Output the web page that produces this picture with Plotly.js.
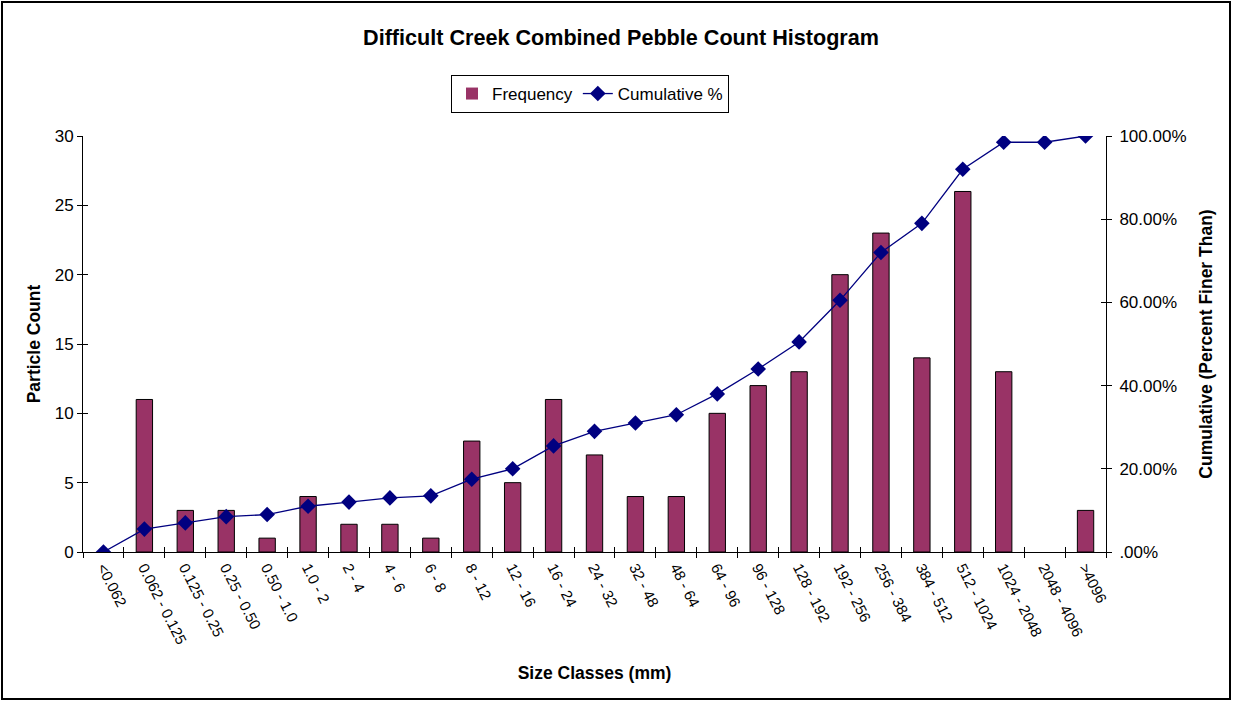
<!DOCTYPE html>
<html>
<head>
<meta charset="utf-8">
<script src="https://cdn.plot.ly/plotly-3.0.1.min.js"></script>
<style>
  html, body { margin:0; padding:0; background:#fff; }
  #wrap { position:relative; width:1233px; height:702px; }
  #chart { position:absolute; left:0; top:0; width:1233px; height:702px; }
  #frame { position:absolute; left:1px; top:1px; width:1230px; height:699px; border:2px solid #000; box-sizing:border-box; pointer-events:none; }
</style>
</head>
<body>
<div id="wrap"><div id="chart"></div><div id="frame"></div></div>
<script>
const categories = ["<0.062","0.062 - 0.125","0.125 - 0.25","0.25 - 0.50","0.50 - 1.0","1.0 - 2","2 - 4","4 - 6","6 - 8","8 - 12","12 - 16","16 - 24","24 - 32","32 - 48","48 - 64","64 - 96","96 - 128","128 - 192","192 - 256","256 - 384","384 - 512","512 - 1024","1024 - 2048","2048 - 4096",">4096"];
const frequency = [0,11,3,3,1,4,2,2,1,8,5,11,7,4,4,10,12,13,20,23,14,26,13,0,3];
const cumulativePct = [0,5.5,7,8.5,9,11,12,13,13.5,17.5,20,25.5,29,31,33,38,44,50.5,60.5,72,79,92,98.5,98.5,100];
const leftTicks = [0,5,10,15,20,25,30];
const rightTickVals = [0,20,40,60,80,100];
const rightTickText = [".00%","20.00%","40.00%","60.00%","80.00%","100.00%"];

const F = "Liberation Sans, Arial, sans-serif";
const n = categories.length;
const boundaries = categories.map((c, i) => i - 0.5).concat([n - 0.5]);

const traces = [
  {
    type:'bar', name:'Frequency', x:categories, y:frequency,
    marker:{color:'#993366', line:{color:'#000', width:frequency.map(v => v > 0 ? 1 : 0)}},
    yaxis:'y'
  },
  {
    type:'scatter', mode:'lines+markers', name:'Cumulative %', x:categories, y:cumulativePct,
    line:{color:'#000080', width:1.3},
    marker:{symbol:'diamond', size:12, color:'#000080'},
    yaxis:'y2'
  }
];

const hidden = {showline:false, showgrid:false, zeroline:false, showticklabels:false, fixedrange:true};

const layout = {
  width:1233, height:702,
  margin:{l:83, r:127, t:136, b:150},
  paper_bgcolor:'#fff', plot_bgcolor:'#fff',
  font:{family:F, size:17, color:'#000'},
  bargap:0.6,
  showlegend:true,
  title:{text:'<b>Difficult Creek Combined Pebble Count Histogram</b>', font:{family:F, size:21.6, color:'#000'},
         x:621/1233, xref:'container', xanchor:'center', y:1-37/702, yref:'container', yanchor:'middle'},
  legend:{orientation:'h', xref:'container', yref:'container', x:451/1233, y:1-75/702, xanchor:'left', yanchor:'top',
          bordercolor:'#000', borderwidth:1, bgcolor:'#fff', font:{family:F, size:17, color:'#000'},
          itemwidth:30, tracegroupgap:0},
  xaxis:{
    type:'category', tickangle:63, tickson:'boundaries', ticks:'outside', ticklen:5, tickcolor:'#000',
    showline:true, linecolor:'#000', linewidth:1, showgrid:false, zeroline:false,
    tickfont:{family:F, size:15, color:'#000'},
    title:{text:'<b>Size Classes (mm)</b>', font:{family:F, size:17.5, color:'#000'}, standoff:20},
    range:[-0.5, n-0.5], fixedrange:true
  },
  xaxis2:Object.assign({overlaying:'x', anchor:'y', range:[-0.5, n-0.5], tickvals:boundaries, ticks:'inside', ticklen:5, tickcolor:'#000'}, hidden),
  yaxis:{
    range:[0,30], tickvals:leftTicks, ticks:'outside', ticklen:5, tickcolor:'#000',
    showline:true, linecolor:'#000', linewidth:1, showgrid:false, zeroline:false,
    tickfont:{family:F, size:17, color:'#000'},
    title:{text:'<b>Particle Count</b>', font:{family:F, size:17.5, color:'#000'}, standoff:9}
  },
  yaxis3:Object.assign({overlaying:'y', side:'left', anchor:'x', range:[0,30], tickvals:leftTicks, ticks:'inside', ticklen:5, tickcolor:'#000'}, hidden),
  yaxis2:{
    range:[0,100], overlaying:'y', side:'right', tickvals:rightTickVals, ticktext:rightTickText,
    ticks:'outside', ticklen:5, tickcolor:'#000', ticklabelstandoff:4,
    showline:true, linecolor:'#000', linewidth:1, showgrid:false, zeroline:false,
    tickfont:{family:F, size:17, color:'#000'},
    title:{text:'<b>Cumulative (Percent Finer Than)</b>', font:{family:F, size:17.5, color:'#000'}, standoff:14}
  },
  yaxis4:Object.assign({overlaying:'y', side:'right', anchor:'x', range:[0,100], tickvals:rightTickVals, ticks:'inside', ticklen:5, tickcolor:'#000'}, hidden)
};

// invisible carrier traces so the tick-crossing overlay axes are drawn
traces.push({type:'scatter', x:[0], y:[null], xaxis:'x2', yaxis:'y3', showlegend:false, hoverinfo:'skip'});
traces.push({type:'scatter', x:[0], y:[null], xaxis:'x2', yaxis:'y4', showlegend:false, hoverinfo:'skip'});

Plotly.newPlot('chart', traces, layout, {displayModeBar:false, staticPlot:true});
</script>
</body>
</html>
